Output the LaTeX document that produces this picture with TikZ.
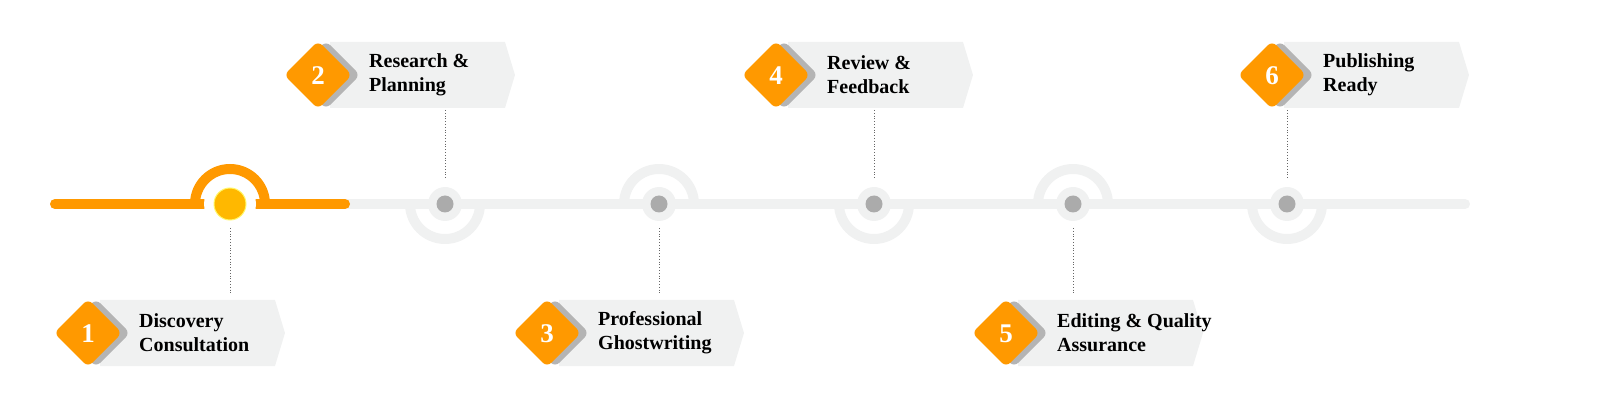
\documentclass[tikz,border=0pt]{standalone}
\usepackage{fontspec}
\setmainfont{Liberation Serif}
\usetikzlibrary{positioning}
\definecolor{stepOrange}{HTML}{FF9900}
\definecolor{trackGray}{HTML}{F0F1F1}
\definecolor{dotGray}{HTML}{ABABAB}
\definecolor{shadowGray}{HTML}{B4B4B4}
\tikzset{
  track/.style={line width=10pt, line cap=round, draw=trackGray},
  hub/.style={circle, fill=trackGray, minimum size=34pt, inner sep=0pt},
  dot/.style={circle, fill=dotGray, minimum size=17pt, inner sep=0pt},
  leader/.style={draw=black!60, dotted, line width=0.8pt},
  banner/.style={fill=trackGray},
  badge/.style={fill=stepOrange, rounded corners=6pt},
  badgeshadow/.style={fill=shadowGray, rounded corners=6pt},
  steptext/.style={font=\fontsize{20}{24}\selectfont\bfseries, align=left, anchor=west, inner sep=0pt},
  num/.style={font=\fontsize{27}{27}\selectfont\bfseries, text=white, inner sep=0pt},
}
\begin{document}
\begin{tikzpicture}[x=1pt, y=-1pt]
    % main track
    \coordinate (start) at (55,204);
    \coordinate (stop) at (1465,204);
    \draw[track] (start) -- (stop);
    \draw[track, draw=stepOrange] (start) -- (345,204);

    % arcs around the stations (y axis points down)
    \draw[line width=10pt, draw=stepOrange] (195,204) arc[start angle=180, end angle=360, radius=35];
    \foreach \x in {659,1073}
        \draw[line width=10pt, draw=trackGray] (\x-35,204) arc[start angle=180, end angle=360, radius=35];
    \foreach \x in {445,874,1287}
        \draw[line width=10pt, draw=trackGray] (\x-35,204) arc[start angle=180, end angle=0, radius=35];

    % stations
    \node[circle, fill=white, minimum size=52pt, inner sep=0pt] (hub1) at (230,204) {};
    \node[circle, fill=stepOrange!70!yellow, draw=yellow!60, line width=1pt, minimum size=32pt, inner sep=0pt] (dot1) at (230,204) {};
    \foreach \x/\n in {445/2,659/3,874/4,1073/5,1287/6} {
        \node[hub] (hub\n) at (\x,204) {};
        \node[dot] (dot\n) at (\x,204) {};
    }

    % labels: step / station x / badge x / row y / text
    \foreach \n/\x/\bx/\y/\txt in {
        1/230/88/333/{Discovery\\Consultation},
        2/445/318/75/{Research \&\\Planning},
        3/659/547/333/{Professional\\Ghostwriting},
        4/874/776/75/{Review \&\\Feedback},
        5/1073/1006/333/{Editing \& Quality\\Assurance},
        6/1287/1272/75/{Publishing\\Ready}} {
        \fill[banner] (\bx+12,\y-33) -- (\bx+187,\y-33) -- (\bx+197,\y) -- (\bx+187,\y+33) -- (\bx+12,\y+33) -- cycle;
        \fill[badgeshadow] (\bx+8,\y-34) -- (\bx+42,\y) -- (\bx+8,\y+34) -- (\bx-26,\y) -- cycle;
        \fill[badge] (\bx,\y-34) -- (\bx+34,\y) -- (\bx,\y+34) -- (\bx-34,\y) -- cycle;
        \node[num] (num\n) at (\bx,\y+1) {\n};
        \node[steptext] (txt\n) at (\bx+51,\y) {\txt};
    }

    % leaders
    \foreach \x/\n in {230/1,659/3,1073/5}
        \draw[leader] (\x,228) coordinate (from\n) -- (\x,295) coordinate (to\n);
    \foreach \x/\n in {445/2,874/4,1287/6}
        \draw[leader] (\x,110) coordinate (from\n) -- (\x,178) coordinate (to\n);

    \pgfresetboundingbox
    \path[use as bounding box] (0,0) rectangle (1600,419);
\end{tikzpicture}
\end{document}
